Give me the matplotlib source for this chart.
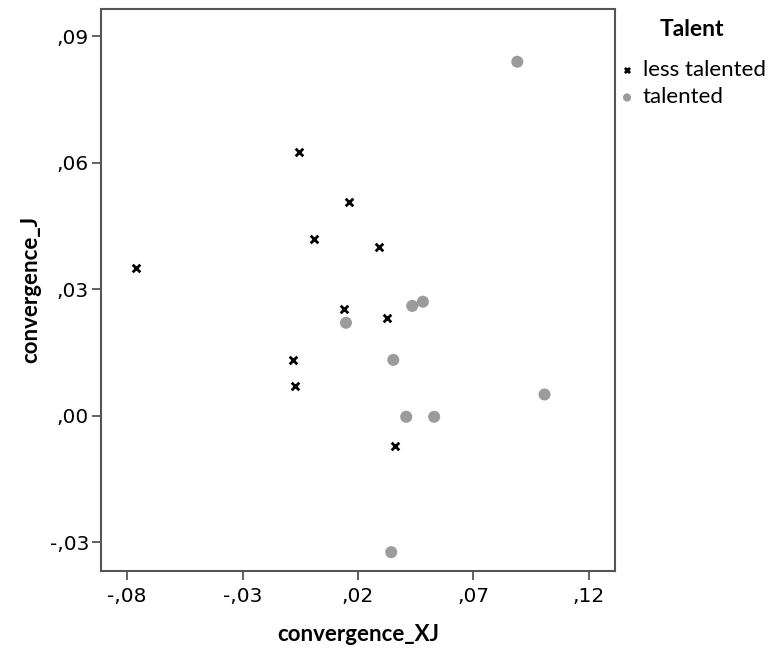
import numpy as np
import matplotlib
matplotlib.use('Agg')
import matplotlib.pyplot as plt
from matplotlib.ticker import FuncFormatter

# data: convergence per subject, split by talent group
less_x = [-0.0762, -0.0057, 0.0162, 0.0011, 0.0292, 0.0141, 0.0327, -0.0083, -0.0073, 0.0361]
less_y = [0.0352, 0.0627, 0.0508, 0.0419, 0.0401, 0.0254, 0.0233, 0.0133, 0.0071, -0.0071]
tal_x = [0.0890, 0.0435, 0.0481, 0.0148, 0.0353, 0.1008, 0.0409, 0.0530, 0.0344]
tal_y = [0.0840, 0.0261, 0.0271, 0.0221, 0.0133, 0.0051, -0.0002, -0.0002, -0.0323]
x_ticks = [-0.08, -0.03, 0.02, 0.07, 0.12]
y_ticks = [-0.03, 0.00, 0.03, 0.06, 0.09]

label_font = 'Lato'
spine_color = '#555555'


def comma_fmt(v, pos):
    # SPSS style: no leading zero, comma as decimal separator
    s = f'{v:.2f}'.replace('0.', '.', 1).replace('.', ',')
    if s == '-,00':
        s = ',00'
    return s


fig = plt.figure(figsize=(7.75, 6.49), dpi=100)
ax = fig.add_axes([0.130, 0.1206, 0.6635, 0.8655])

ax.scatter(less_x, less_y, marker='x', s=30, color='black', linewidths=2.0, label='less talented', zorder=3)
ax.scatter(tal_x, tal_y, marker='o', s=75, color='#9b9b9b', edgecolors='none', label='talented', zorder=3)

ax.set_xlim(-0.0914, 0.1313)
ax.set_ylim(-0.0367, 0.0965)
ax.set_xticks(x_ticks)
ax.set_yticks(y_ticks)
ax.xaxis.set_major_formatter(FuncFormatter(comma_fmt))
ax.yaxis.set_major_formatter(FuncFormatter(comma_fmt))
ax.tick_params(direction='out', length=6.5, width=1.3, color=spine_color, labelsize=14.5)
ax.tick_params(axis='x', pad=5)
ax.tick_params(axis='y', pad=2)
for sp in ax.spines.values():
    sp.set_color(spine_color)
    sp.set_linewidth(1.5)

ax.set_xlabel('convergence_XJ', fontfamily=label_font, fontweight='bold', fontsize=16, labelpad=13)
ax.set_ylabel('convergence_J', fontfamily=label_font, fontweight='bold', fontsize=16, labelpad=6)

leg = fig.legend(loc='upper left', bbox_to_anchor=(607 / 775, 1 - 8 / 649), frameon=False, title='Talent',
                 prop={'family': label_font, 'size': 16}, handlelength=0.8, handletextpad=0.3,
                 labelspacing=0.35, borderpad=0.0, scatterpoints=1, markerscale=0.68)
leg.get_title().set_fontfamily(label_font)
leg.get_title().set_fontweight('bold')
leg.get_title().set_fontsize(16.5)
leg._legend_box.sep = 14

fig.savefig('out.png', dpi=100)
